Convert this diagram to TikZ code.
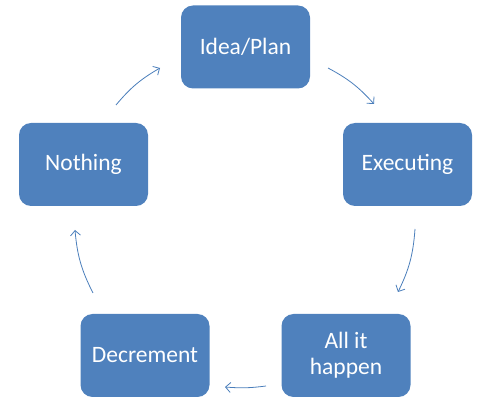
\documentclass[tikz,border=0pt]{standalone}
\usepackage{fontspec}
\setmainfont{Carlito}
\usepackage{tikz}
\usetikzlibrary{arrows.meta, positioning}
\definecolor{BoxBlue}{RGB}{79, 129, 189}
\definecolor{ArrowBlue}{RGB}{74, 126, 187}

\begin{document}
\begin{tikzpicture}[
        x=1pt, y=1pt,
        >={Straight Barb[length=5pt, width=10pt]},
        stage/.style={fill=BoxBlue, rounded corners=12pt, minimum width=129pt, minimum height=83pt, text=white, font=\fontsize{23.5}{26}\selectfont, align=center, inner sep=0pt},
        cycle arrow/.style={->, draw=ArrowBlue, line width=0.8pt}
    ]
    \useasboundingbox (0,0) rectangle (493,418);

    % Stufen
    \node[stage] (idea) at (245.5, 371) {Idea/Plan};
    \node[stage] (exec) at (407.5, 253.5) {Executing};
    \node[stage] (all) at (346, 62.5) {All it\\happen};
    \node[stage] (decr) at (145, 62.5) {Decrement};
    \node[stage] (nothing) at (83.5, 253.5) {Nothing};

    % Pfeilenden
    \coordinate (ideaOut) at (328, 350);
    \coordinate (execIn) at (374, 314);
    \coordinate (execOut) at (415, 189);
    \coordinate (allIn) at (398, 126);
    \coordinate (allOut) at (266, 32);
    \coordinate (decrIn) at (225, 31);
    \coordinate (decrOut) at (93, 125);
    \coordinate (nothingIn) at (75, 188);
    \coordinate (nothingOut) at (116, 313);
    \coordinate (ideaIn) at (160, 350);

    % Kreislauf
    \draw[cycle arrow] (ideaOut) to[bend left=10] (execIn);
    \draw[cycle arrow] (execOut) to[bend left=11] (allIn);
    \draw[cycle arrow] (allOut) to[bend left=6] (decrIn);
    \draw[cycle arrow] (decrOut) to[bend left=11] (nothingIn);
    \draw[cycle arrow] (nothingOut) to[bend left=10] (ideaIn);

\end{tikzpicture}
\end{document}
